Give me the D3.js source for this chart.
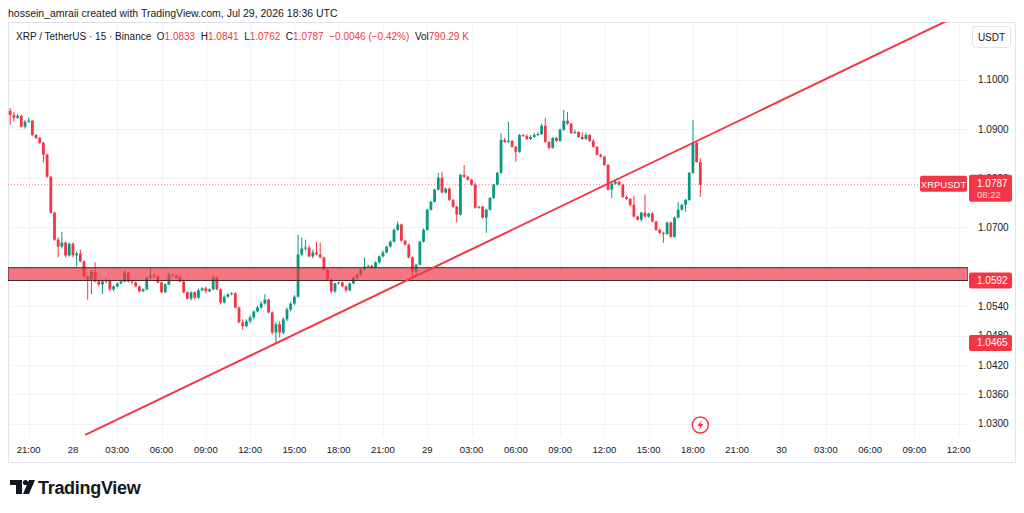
<!DOCTYPE html>
<html><head><meta charset="utf-8">
<script src="https://cdn.jsdelivr.net/npm/d3@7"></script>
<style>body{margin:0;background:#fff;} svg{display:block;font-family:"Liberation Sans",Arial,sans-serif;}</style>
</head><body><svg id="c" width="1024" height="513"></svg>
<script>
// ---- data (XRP/USDT 15m) ----
const startTime = Date.UTC(2026,6,27,19,45);
const barMinutes = 15;
const opens=[
1.0937,1.0929,1.0923,1.0927,1.0905,1.0915,1.0917,1.0888,1.0882,1.0872,
1.0848,1.0803,1.0730,1.0675,1.0661,1.0669,1.0643,1.0667,1.0643,1.0647,
1.0631,1.0600,1.0594,1.0610,1.0590,1.0584,1.0590,1.0592,1.0574,1.0580,
1.0586,1.0590,1.0608,1.0590,1.0588,1.0580,1.0570,1.0574,1.0598,1.0602,
1.0600,1.0588,1.0568,1.0584,1.0604,1.0602,1.0598,1.0590,1.0568,1.0555,
1.0568,1.0557,1.0572,1.0576,1.0570,1.0574,1.0598,1.0574,1.0547,1.0559,
1.0564,1.0566,1.0537,1.0507,1.0499,1.0509,1.0517,1.0529,1.0537,1.0545,
1.0553,1.0527,1.0486,1.0503,1.0486,1.0513,1.0533,1.0545,1.0559,1.0645,
1.0657,1.0659,1.0641,1.0649,1.0645,1.0639,1.0614,1.0594,1.0570,1.0586,
1.0588,1.0580,1.0572,1.0586,1.0598,1.0604,1.0614,1.0620,1.0622,1.0618,
1.0629,1.0641,1.0649,1.0661,1.0671,1.0695,1.0706,1.0673,1.0665,1.0639,
1.0610,1.0624,1.0671,1.0695,1.0736,1.0752,1.0777,1.0801,1.0771,1.0779,
1.0756,1.0742,1.0726,1.0807,1.0803,1.0797,1.0787,1.0740,1.0742,1.0720,
1.0736,1.0760,1.0787,1.0811,1.0878,1.0874,1.0876,1.0864,1.0854,1.0888,
1.0886,1.0880,1.0884,1.0888,1.0890,1.0907,1.0874,1.0862,1.0882,1.0876,
1.0899,1.0917,1.0911,1.0892,1.0894,1.0884,1.0880,1.0888,1.0876,1.0864,
1.0848,1.0844,1.0827,1.0777,1.0789,1.0793,1.0787,1.0762,1.0758,1.0746,
1.0722,1.0716,1.0730,1.0722,1.0728,1.0712,1.0695,1.0689,1.0687,1.0710,
1.0681,1.0720,1.0736,1.0746,1.0756,1.0811,1.0872,1.0833];
const highs=[
1.0943,1.0935,1.0931,1.0929,1.0919,1.0923,1.0919,1.0890,1.0884,1.0874,
1.0850,1.0805,1.0732,1.0679,1.0691,1.0671,1.0669,1.0669,1.0651,1.0655,
1.0633,1.0602,1.0614,1.0629,1.0594,1.0592,1.0596,1.0594,1.0582,1.0588,
1.0592,1.0614,1.0610,1.0592,1.0590,1.0582,1.0576,1.0600,1.0618,1.0606,
1.0602,1.0590,1.0586,1.0608,1.0606,1.0604,1.0602,1.0592,1.0570,1.0570,
1.0570,1.0576,1.0578,1.0580,1.0576,1.0602,1.0600,1.0576,1.0562,1.0566,
1.0568,1.0568,1.0539,1.0513,1.0513,1.0521,1.0531,1.0541,1.0549,1.0564,
1.0555,1.0529,1.0507,1.0509,1.0517,1.0537,1.0549,1.0562,1.0685,1.0679,
1.0675,1.0663,1.0655,1.0671,1.0669,1.0641,1.0616,1.0596,1.0588,1.0590,
1.0590,1.0582,1.0588,1.0600,1.0606,1.0618,1.0639,1.0624,1.0624,1.0631,
1.0643,1.0653,1.0663,1.0673,1.0698,1.0712,1.0708,1.0675,1.0667,1.0641,
1.0626,1.0673,1.0698,1.0738,1.0754,1.0779,1.0811,1.0813,1.0781,1.0781,
1.0758,1.0744,1.0809,1.0827,1.0805,1.0799,1.0791,1.0744,1.0744,1.0738,
1.0762,1.0789,1.0813,1.0892,1.0882,1.0915,1.0878,1.0866,1.0890,1.0890,
1.0890,1.0888,1.0892,1.0894,1.0911,1.0923,1.0876,1.0884,1.0884,1.0901,
1.0939,1.0935,1.0913,1.0899,1.0896,1.0894,1.0892,1.0890,1.0880,1.0866,
1.0850,1.0846,1.0829,1.0791,1.0795,1.0795,1.0789,1.0765,1.0760,1.0765,
1.0724,1.0732,1.0767,1.0730,1.0732,1.0714,1.0698,1.0691,1.0712,1.0712,
1.0722,1.0752,1.0748,1.0758,1.0813,1.0919,1.0874,1.0841];
const lows=[
1.0909,1.0915,1.0921,1.0903,1.0901,1.0913,1.0886,1.0880,1.0870,1.0832,
1.0801,1.0728,1.0673,1.0639,1.0657,1.0639,1.0641,1.0639,1.0620,1.0629,
1.0598,1.0553,1.0564,1.0588,1.0580,1.0564,1.0586,1.0570,1.0570,1.0578,
1.0584,1.0588,1.0588,1.0584,1.0578,1.0568,1.0568,1.0572,1.0594,1.0598,
1.0586,1.0566,1.0566,1.0582,1.0600,1.0596,1.0588,1.0566,1.0553,1.0551,
1.0553,1.0555,1.0570,1.0566,1.0568,1.0572,1.0572,1.0543,1.0545,1.0557,
1.0562,1.0535,1.0505,1.0492,1.0497,1.0505,1.0513,1.0527,1.0535,1.0543,
1.0525,1.0482,1.0465,1.0476,1.0482,1.0509,1.0529,1.0541,1.0557,1.0641,
1.0653,1.0639,1.0637,1.0643,1.0637,1.0612,1.0592,1.0566,1.0566,1.0584,
1.0578,1.0568,1.0570,1.0584,1.0594,1.0600,1.0612,1.0618,1.0616,1.0616,
1.0626,1.0639,1.0647,1.0659,1.0669,1.0693,1.0671,1.0663,1.0637,1.0598,
1.0602,1.0622,1.0669,1.0693,1.0734,1.0750,1.0775,1.0769,1.0769,1.0754,
1.0740,1.0710,1.0724,1.0801,1.0795,1.0785,1.0738,1.0738,1.0718,1.0689,
1.0734,1.0758,1.0785,1.0809,1.0872,1.0872,1.0862,1.0834,1.0852,1.0884,
1.0878,1.0878,1.0882,1.0886,1.0888,1.0872,1.0858,1.0860,1.0874,1.0874,
1.0896,1.0909,1.0890,1.0890,1.0882,1.0878,1.0878,1.0874,1.0862,1.0846,
1.0842,1.0825,1.0775,1.0760,1.0787,1.0785,1.0760,1.0756,1.0742,1.0720,
1.0714,1.0712,1.0720,1.0720,1.0710,1.0693,1.0687,1.0669,1.0685,1.0679,
1.0679,1.0718,1.0734,1.0732,1.0754,1.0809,1.0832,1.0762];
const closes=[
1.0929,1.0923,1.0927,1.0905,1.0915,1.0917,1.0888,1.0882,1.0872,1.0848,
1.0803,1.0730,1.0675,1.0661,1.0669,1.0643,1.0667,1.0643,1.0647,1.0631,
1.0600,1.0594,1.0610,1.0590,1.0584,1.0590,1.0592,1.0574,1.0580,1.0586,
1.0590,1.0608,1.0590,1.0588,1.0580,1.0570,1.0574,1.0598,1.0602,1.0600,
1.0588,1.0568,1.0584,1.0604,1.0602,1.0598,1.0590,1.0568,1.0555,1.0568,
1.0557,1.0572,1.0576,1.0570,1.0574,1.0598,1.0574,1.0547,1.0559,1.0564,
1.0566,1.0537,1.0507,1.0499,1.0509,1.0517,1.0529,1.0537,1.0545,1.0553,
1.0527,1.0486,1.0503,1.0486,1.0513,1.0533,1.0545,1.0559,1.0645,1.0657,
1.0659,1.0641,1.0649,1.0645,1.0639,1.0614,1.0594,1.0570,1.0586,1.0588,
1.0580,1.0572,1.0586,1.0598,1.0604,1.0614,1.0620,1.0622,1.0618,1.0629,
1.0641,1.0649,1.0661,1.0671,1.0695,1.0706,1.0673,1.0665,1.0639,1.0610,
1.0624,1.0671,1.0695,1.0736,1.0752,1.0777,1.0801,1.0771,1.0779,1.0756,
1.0742,1.0726,1.0807,1.0803,1.0797,1.0787,1.0740,1.0742,1.0720,1.0736,
1.0760,1.0787,1.0811,1.0878,1.0874,1.0876,1.0864,1.0854,1.0888,1.0886,
1.0880,1.0884,1.0888,1.0890,1.0907,1.0874,1.0862,1.0882,1.0876,1.0899,
1.0917,1.0911,1.0892,1.0894,1.0884,1.0880,1.0888,1.0876,1.0864,1.0848,
1.0844,1.0827,1.0777,1.0789,1.0793,1.0787,1.0762,1.0758,1.0746,1.0722,
1.0716,1.0730,1.0722,1.0728,1.0712,1.0695,1.0689,1.0687,1.0710,1.0681,
1.0720,1.0736,1.0746,1.0756,1.0811,1.0872,1.0833,1.0787];
const priceTicks=[1.1000,1.0900,1.0800,1.0700,1.0600,1.0540,1.0480,1.0420,1.0360,1.0300];
const zoneTop=1.0618, zoneBottom=1.0592;
const trendTimes=[Date.UTC(2026,6,28,0,50), Date.UTC(2026,6,29,18,0)];
const trendPrices=[1.02778, 1.0872];
const lastPrice=1.0787, countdown="08:22";
const axisMarks=[1.0592,1.0465];
const viewStart=Date.UTC(2026,6,27,19,36), viewEnd=Date.UTC(2026,6,30,12,38);
const priceMin=1.02735, priceMax=1.1118;
const eventTime=Date.UTC(2026,6,29,18,30);

// ---- layout ----
const L=8, R=968, T=22, B=437;
const UP="#089981", DN="#f23645", TXT="#131722";
const svg=d3.select("#c");
const x=d3.scaleUtc().domain([viewStart,viewEnd]).range([L,R]);
const y=d3.scaleLinear().domain([priceMin,priceMax]).range([B,T]);
const bars=closes.map((c,i)=>({t:new Date(startTime+i*barMinutes*60000),o:opens[i],h:highs[i],l:lows[i],c:c}));

svg.append("defs").append("clipPath").attr("id","plot").append("rect")
  .attr("x",L).attr("y",T).attr("width",R-L).attr("height",B-T);

// frame
svg.append("rect").attr("x",8.5).attr("y",22.5).attr("width",1007).attr("height",440)
  .attr("fill","none").attr("stroke","#e0e3eb");

// grid
const hours=d3.utcHour.every(3).range(new Date(viewStart),new Date(viewEnd));
svg.append("g").selectAll("line").data(hours).join("line")
  .attr("x1",d=>Math.round(x(d))+0.5).attr("x2",d=>Math.round(x(d))+0.5).attr("y1",T).attr("y2",B)
  .attr("stroke","#f2f3f6");
svg.append("g").selectAll("line").data(priceTicks).join("line")
  .attr("x1",L).attr("x2",R).attr("y1",d=>Math.round(y(d))+0.5).attr("y2",d=>Math.round(y(d))+0.5)
  .attr("stroke","#f2f3f6");

const plot=svg.append("g").attr("clip-path","url(#plot)");
// last price dotted line
plot.append("line").attr("x1",L).attr("x2",R).attr("y1",y(lastPrice)).attr("y2",y(lastPrice))
  .attr("stroke",DN).attr("stroke-opacity",0.6).attr("stroke-dasharray","1,2");

// candles
const cg=plot.append("g");
cg.selectAll("line").data(bars).join("line")
  .attr("x1",d=>x(d.t)).attr("x2",d=>x(d.t)).attr("y1",d=>y(d.h)).attr("y2",d=>y(d.l))
  .attr("stroke",d=>d.c>=d.o?UP:DN).attr("stroke-width",1);
cg.selectAll("rect").data(bars).join("rect")
  .attr("x",d=>x(d.t)-1.4).attr("width",2.8)
  .attr("y",d=>y(Math.max(d.o,d.c))).attr("height",d=>Math.max(1,Math.abs(y(d.o)-y(d.c))))
  .attr("fill",d=>d.c>=d.o?UP:DN);

// zone
plot.append("rect").attr("x",L).attr("width",R-L).attr("y",y(zoneTop)).attr("height",y(zoneBottom)-y(zoneTop))
  .attr("fill",DN).attr("fill-opacity",0.68).attr("stroke","#3a2a2c").attr("stroke-width",1);

// trendline extended right
const slope=(trendPrices[1]-trendPrices[0])/(trendTimes[1]-trendTimes[0]);
const endP=trendPrices[0]+slope*(viewEnd-trendTimes[0]);
plot.append("line").attr("x1",x(trendTimes[0])).attr("y1",y(trendPrices[0]))
  .attr("x2",x(viewEnd)).attr("y2",y(endP)).attr("stroke",DN).attr("stroke-width",2);

// event marker
const ex=x(eventTime), ey=425;
svg.append("circle").attr("cx",ex).attr("cy",ey).attr("r",8).attr("fill","#fff").attr("stroke",DN).attr("stroke-width",1.5);
svg.append("path").attr("d",`M${ex+1.5},${ey-5} L${ex-3},${ey+1} L${ex},${ey+1} L${ex-1.5},${ey+5} L${ex+3},${ey-1} L${ex},${ey-1} Z`).attr("fill",DN);

// price axis labels (labels fully covered by a badge in the reference are not drawn)
const badgePrices=[lastPrice].concat(axisMarks);
const shownTicks=priceTicks.filter(p=>!badgePrices.some(b=>Math.abs(y(b)-y(p))<5));
svg.append("g").selectAll("text").data(shownTicks).join("text")
  .attr("x",978).attr("y",d=>y(d)+3.5).attr("font-size",10).attr("fill",TXT).text(d=>d.toFixed(4));

// time axis labels
svg.append("g").selectAll("text").data(hours).join("text")
  .attr("x",d=>x(d)).attr("y",453).attr("text-anchor","middle").attr("font-size",9.5).attr("fill",TXT)
  .text(d=>d.getUTCHours()===0?d3.utcFormat("%-d")(d):d3.utcFormat("%H:%M")(d));

// USDT box
svg.append("rect").attr("x",972.5).attr("y",26.5).attr("width",38).attr("height",21).attr("rx",3)
  .attr("fill","#fff").attr("stroke","#e0e3eb");
svg.append("text").attr("x",991.5).attr("y",41).attr("text-anchor","middle").attr("font-size",10).attr("fill",TXT).text("USDT");

// badges
const ly=y(lastPrice);
svg.append("rect").attr("x",920).attr("y",ly-9).attr("width",47).attr("height",16).attr("rx",2).attr("fill",DN);
svg.append("text").attr("x",943.5).attr("y",ly+3).attr("text-anchor","middle").attr("font-size",9.5).attr("fill","#fff").text("XRPUSDT");
svg.append("rect").attr("x",969).attr("y",ly-10).attr("width",43).attr("height",27).attr("rx",2).attr("fill",DN);
svg.append("text").attr("x",977).attr("y",ly+2.5).attr("font-size",10).attr("fill","#fff").text(lastPrice.toFixed(4));
svg.append("text").attr("x",977).attr("y",ly+13.5).attr("font-size",9.5).attr("fill","#ffd6d9").text(countdown);
axisMarks.forEach(p=>{
  const py=y(p);
  svg.append("rect").attr("x",969).attr("y",py-8).attr("width",43).attr("height",16).attr("rx",2).attr("fill",DN);
  svg.append("text").attr("x",977).attr("y",py+3.5).attr("font-size",10).attr("fill","#fff").text(p.toFixed(4));
});

// header
svg.append("text").attr("x",8).attr("y",17).attr("font-size",10.5).attr("fill",TXT)
  .text("hossein_amraii created with TradingView.com, Jul 29, 2026 18:36 UTC");
const lg=svg.append("text").attr("x",16).attr("y",40).attr("font-size",10).attr("fill",TXT);
const legendParts=[["XRP / TetherUS · 15 · Binance  ",TXT],["O",TXT],["1.0833  ",DN],["H",TXT],["1.0841  ",DN],
  ["L",TXT],["1.0762  ",DN],["C",TXT],["1.0787  ",DN],["−0.0046 (−0.42%)  ",DN],["Vol",TXT],["790.29 K",DN]];
legendParts.forEach(([s,c])=>lg.append("tspan").attr("fill",c).attr("xml:space","preserve").style("white-space","pre").text(s));

// logo
const lgG=svg.append("g").attr("fill",TXT);
lgG.append("path").attr("d","M10,480 H22 V494 H16 V485 H10 Z");
lgG.append("circle").attr("cx",25.5).attr("cy",482.5).attr("r",2.6);
lgG.append("path").attr("d","M29,480 H35 L29,494 H23 Z");
svg.append("text").attr("x",38).attr("y",494).attr("font-size",18).attr("font-weight","bold").attr("fill",TXT)
  .attr("letter-spacing",-0.3).text("TradingView");
</script></body></html>
